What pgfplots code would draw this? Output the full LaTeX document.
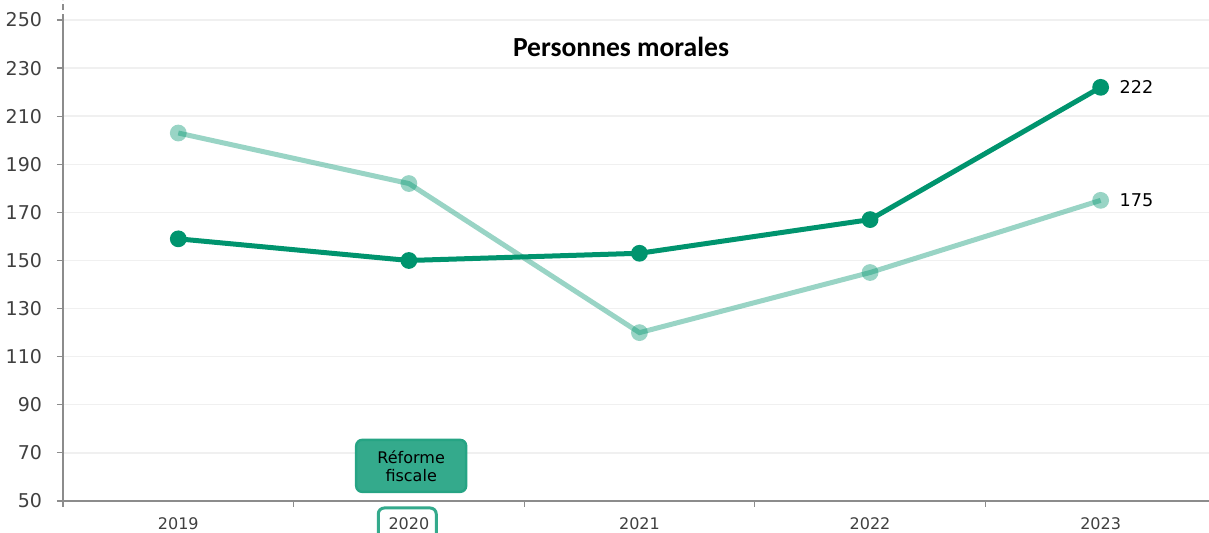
\documentclass[border=0pt]{standalone}
\usepackage{pgfplots}
\pgfplotsset{compat=1.18}
\usepackage{fontspec}
\setmainfont{DejaVu Sans}
\newfontfamily\titlefont{Carlito}
\definecolor{vert}{RGB}{0,148,110}
\definecolor{vertbox}{RGB}{52,170,140}
\definecolor{axisgray}{RGB}{140,140,140}
\definecolor{textgray}{RGB}{64,64,64}

\begin{document}
\begin{tikzpicture}
\begin{axis}[
    at={(0,0)}, anchor=south west,
    scale only axis,
    width=573pt, height=240.5pt,
    xmin=-0.5, xmax=4.47,
    ymin=50, ymax=250,
    ytick={50,70,...,250},
    xtick={0,1,2,3,4},
    xticklabels={2019,2020,2021,2022,2023},
    minor xtick={-0.5,0.5,1.5,2.5,3.5},
    axis x line*=bottom,
    axis y line*=left,
    axis line style={axisgray, line width=0.8pt},
    x axis line style={-},
    y axis line style={-},
    tick align=outside,
    major tick length=3pt,
    minor tick length=3pt,
    xtick style={draw=none},
    minor x tick style={draw=axisgray, line width=0.6pt},
    ytick style={draw=axisgray, line width=0.6pt},
    ymajorgrids,
    grid style={gray!12, line width=0.7pt},
    yticklabel style={font=\fontsize{9.5}{10}\selectfont, text=textgray, xshift=-4pt},
    xticklabel style={font=\fontsize{8}{9}\selectfont, text=textgray, yshift=-2pt},
    /pgf/number format/assume math mode=true,
    clip=false,
]
% ensemble (clair)
\addplot[color=vert, opacity=0.4, line width=2.5pt, mark=*, mark size=4.2pt,
    mark options={draw opacity=0, fill=vert, line width=0pt}] coordinates {
    (0,203) (1,182) (2,120) (3,145) (4,175)
};
% personnes morales (fonce)
\addplot[color=vert, line width=2.5pt, mark=*, mark size=4.2pt,
    mark options={draw opacity=0, fill=vert, line width=0pt}] coordinates {
    (0,159) (1,150) (2,153) (3,167) (4,222)
};
\node[anchor=west, font=\fontsize{8.8}{10}\selectfont] at (axis cs:4,222) [xshift=6pt] {222};
\node[anchor=west, font=\fontsize{8.8}{10}\selectfont] at (axis cs:4,175) [xshift=6pt] {175};
\node[font=\titlefont\bfseries\fontsize{13.8}{15}\selectfont] at (axis cs:1.92,239) {Personnes morales};
\node[draw=vert!85!white, fill=vertbox, rounded corners=3pt, line width=1.2pt,
      minimum width=55pt, minimum height=26pt, align=center, inner sep=1pt,
      font=\fontsize{8}{9}\selectfont] at (axis cs:1.01,64.6) {Réforme\\fiscale};
\draw[vertbox, line width=1.5pt, rounded corners=3pt]
    ([xshift=-14.5pt,yshift=-3.5pt]axis cs:0.993,50) rectangle ([xshift=14.5pt,yshift=-22pt]axis cs:0.993,50);
\draw[axisgray, densely dashed, line width=0.6pt] (axis cs:-0.5,250) -- ([yshift=10pt]axis cs:-0.5,250);
\end{axis}
\pgfresetboundingbox
\path (-31.5pt,-16pt) rectangle (573pt,250.5pt);
\end{tikzpicture}
\end{document}
